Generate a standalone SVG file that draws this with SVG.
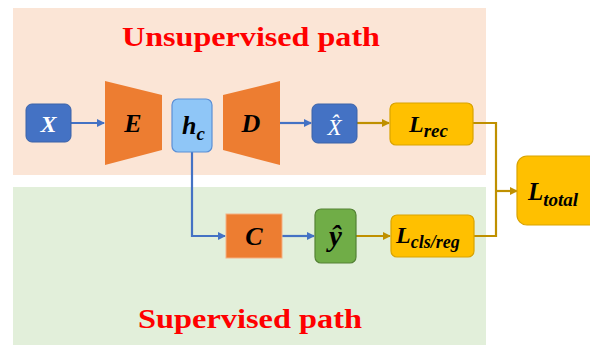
<svg xmlns="http://www.w3.org/2000/svg" width="590" height="345" viewBox="0 0 590 345">
<defs>
<marker id="ab" markerWidth="8" markerHeight="8" refX="7" refY="4" orient="auto" markerUnits="userSpaceOnUse"><path d="M0,0 L8,4 L0,8 z" fill="#4472C4"/></marker>
<marker id="ag" markerWidth="8" markerHeight="8" refX="7" refY="4" orient="auto" markerUnits="userSpaceOnUse"><path d="M0,0 L8,4 L0,8 z" fill="#BF9000"/></marker>
<style>
.title{font-family:"Liberation Serif",serif;font-weight:bold;fill:#FF0000;font-size:28px;text-anchor:middle}
.m{font-family:"Liberation Serif",serif;font-weight:bold;font-style:italic;text-anchor:middle;fill:#000}
.bl{fill:none;stroke:#4472C4;stroke-width:2.2}
.gl{fill:none;stroke:#BF9000;stroke-width:2.2}
.orange{fill:#ED7D31}
.loss{fill:#FFC000;stroke:#D9A300;stroke-width:1.2}
</style>
</defs>
<rect x="13" y="8" width="473" height="167" fill="#FBE5D6"/>
<rect x="13" y="187" width="473" height="158" fill="#E2EFDA"/>
<text class="title" x="251" y="46" textLength="258" lengthAdjust="spacingAndGlyphs">Unsupervised path</text>
<text class="title" x="250" y="328" textLength="224" lengthAdjust="spacingAndGlyphs">Supervised path</text>
<g id="connectors">
<path class="bl" d="M71,123 H104" marker-end="url(#ab)"/>
<path class="bl" d="M280,123 H311" marker-end="url(#ab)"/>
<path class="bl" d="M192,152 V236 H225" marker-end="url(#ab)"/>
<path class="bl" d="M282,236 H314" marker-end="url(#ab)"/>
<path class="gl" d="M357,123 H389" marker-end="url(#ag)"/>
<path class="gl" d="M356,236 H390" marker-end="url(#ag)"/>
<path class="gl" d="M473,123 H496 V236 H474"/>
<path class="gl" d="M496,191 H517" marker-end="url(#ag)"/>
</g>
<g id="X">
<rect x="26" y="104" width="45" height="38" rx="6" fill="#4472C4" stroke="#3A62A8" stroke-width="1"/>
<text class="m" x="48.5" y="131.5" font-size="24" style="fill:#fff">X</text>
</g>
<g id="E">
<polygon class="orange" points="105,81 162,95 162,150 105,165"/>
<text class="m" x="133" y="132" font-size="26">E</text>
</g>
<g id="hc">
<rect x="172" y="99" width="40" height="53" rx="6" fill="#8FC6F7" stroke="#5B8FD6" stroke-width="1.2"/>
<text class="m" x="182" y="134" font-size="26" style="text-anchor:start">h<tspan font-size="19" dy="6">c</tspan></text>
</g>
<g id="D">
<polygon class="orange" points="223,95 280,81 280,165 223,150"/>
<text class="m" x="251" y="132" font-size="26">D</text>
</g>
<g id="Xhat">
<rect x="312" y="104" width="45" height="39" rx="6" fill="#4472C4" stroke="#3A62A8" stroke-width="1"/>
<text class="m" x="334.5" y="135" font-size="23" style="fill:#fff;font-weight:normal">X̂</text>
</g>
<g id="Lrec">
<rect class="loss" x="390" y="103" width="83" height="42" rx="6"/>
<text class="m" x="409" y="132" font-size="24" style="text-anchor:start">L<tspan font-size="19" dy="5">rec</tspan></text>
</g>
<g id="C">
<rect x="226" y="214" width="56" height="44" class="orange" stroke="#F4B183" stroke-width="1"/>
<text class="m" x="254" y="245" font-size="26">C</text>
</g>
<g id="yhat">
<rect x="315" y="209" width="41" height="54" rx="6" fill="#70AD47" stroke="#548235" stroke-width="1.2"/>
<text class="m" x="335.5" y="246" font-size="29">ŷ</text>
</g>
<g id="Lcls">
<rect class="loss" x="391" y="215" width="83" height="42" rx="6"/>
<text class="m" x="396" y="243" font-size="24" style="text-anchor:start">L<tspan font-size="18" dy="5">cls/reg</tspan></text>
</g>
<g id="Ltotal">
<rect class="loss" x="517" y="156" width="90" height="69" rx="10"/>
<text class="m" x="528" y="200" font-size="25" style="text-anchor:start">L<tspan font-size="19" dy="6">total</tspan></text>
</g>
</svg>
